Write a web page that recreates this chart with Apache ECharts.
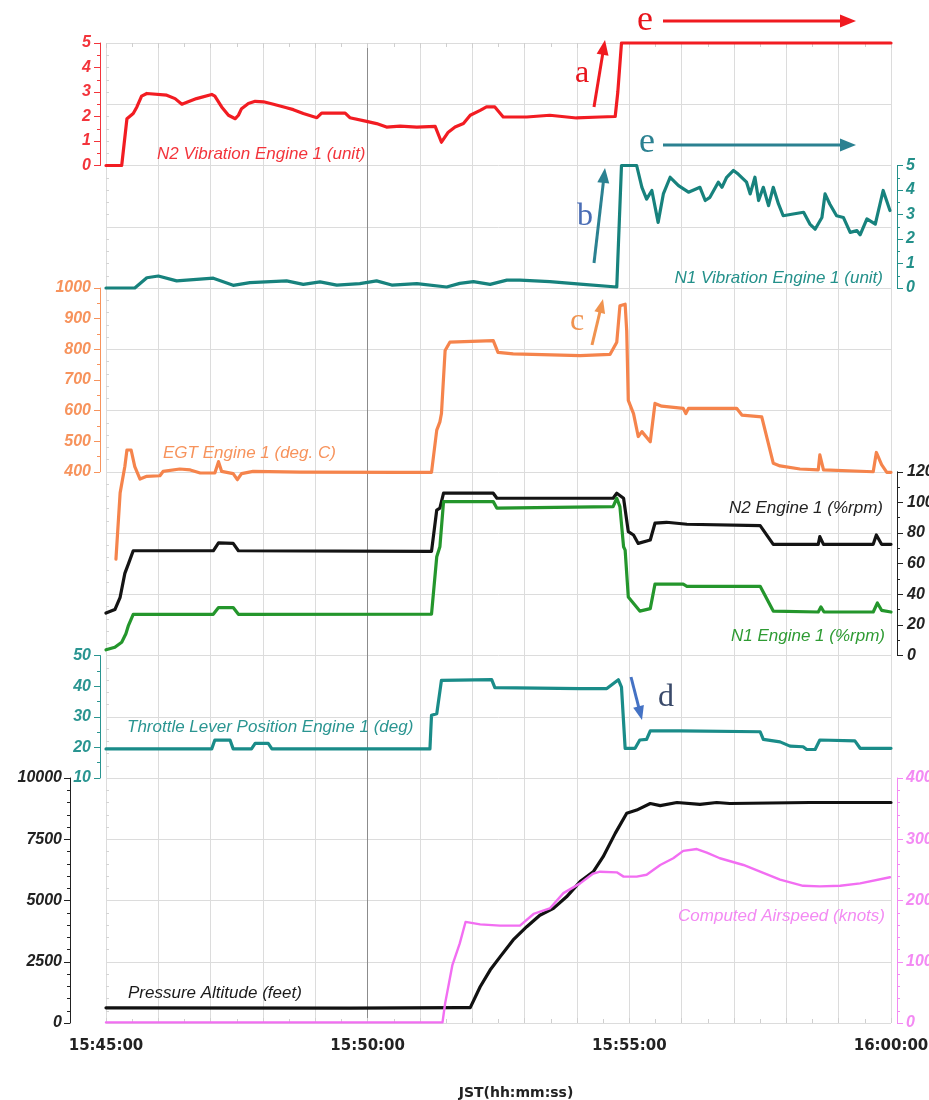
<!DOCTYPE html>
<html>
<head>
<meta charset="utf-8">
<title>Engine 1 parameters</title>
<script src="https://cdn.jsdelivr.net/npm/echarts@6/dist/echarts.min.js"></script>
<style>
  html, body { margin: 0; padding: 0; background: #ffffff; }
  #chart { width: 929px; height: 1100px; }
</style>
</head>
<body>
<div id="chart"></div>
<script>
// x values are minutes after 15:45:00 JST
const timeLabels = ['15:45:00', '15:50:00', '15:55:00', '16:00:00'];

// N2 vibration, engine 1 (unit)
const n2Vibration = [
  [0, 0], [0.30, 0], [0.40, 1.91], [0.52, 2.12], [0.59, 2.39], [0.68, 2.83], [0.78, 2.94],
  [1.16, 2.87], [1.32, 2.73], [1.45, 2.5], [1.57, 2.6], [1.73, 2.73], [2.02, 2.9], [2.08, 2.83],
  [2.21, 2.39], [2.34, 2.05], [2.47, 1.91], [2.53, 2.05], [2.59, 2.32], [2.72, 2.53], [2.85, 2.62],
  [3.01, 2.6], [3.20, 2.5], [3.45, 2.36], [3.58, 2.28], [3.77, 2.12], [4.03, 1.95], [4.12, 2.14],
  [4.57, 2.14], [4.66, 1.95], [4.98, 1.8], [5.17, 1.71], [5.36, 1.57], [5.62, 1.61], [5.94, 1.57],
  [6.29, 1.6], [6.41, 0.95], [6.54, 1.36], [6.67, 1.57], [6.83, 1.71], [6.96, 2.05], [7.15, 2.25],
  [7.27, 2.39], [7.43, 2.39], [7.59, 1.98], [7.78, 1.98], [8.04, 1.98], [8.48, 2.05], [8.99, 1.94],
  [9.44, 1.98], [9.73, 2.0], [9.78, 3.0], [9.85, 5.0], [15, 5.0]
];

// N1 vibration, engine 1 (unit)
const n1Vibration = [
  [0, 0], [0.55, 0], [0.78, 0.42], [1.0, 0.49], [1.35, 0.29], [2.05, 0.4], [2.43, 0.11], [2.75, 0.22],
  [3.45, 0.29], [3.77, 0.15], [4.09, 0.25], [4.41, 0.12], [4.85, 0.18], [5.17, 0.29], [5.46, 0.12],
  [5.94, 0.18], [6.51, 0.04], [6.76, 0.19], [7.02, 0.26], [7.34, 0.15], [7.66, 0.32], [7.91, 0.32],
  [8.48, 0.26], [9.12, 0.15], [9.76, 0.04], [9.85, 5.0], [10.14, 5.0], [10.24, 4.11], [10.33, 3.63],
  [10.43, 3.98], [10.55, 2.68], [10.65, 3.84], [10.78, 4.52], [10.94, 4.18], [11.13, 3.91],
  [11.35, 4.11], [11.45, 3.57], [11.54, 3.7], [11.70, 4.32], [11.77, 4.11], [11.86, 4.52],
  [11.99, 4.8], [12.08, 4.65], [12.24, 4.32], [12.31, 3.84], [12.40, 4.52], [12.47, 3.57],
  [12.56, 4.11], [12.66, 3.36], [12.75, 4.11], [12.85, 3.43], [12.94, 2.95], [13.13, 3.02],
  [13.33, 3.09], [13.45, 2.61], [13.55, 2.4], [13.68, 2.88], [13.74, 3.84], [13.83, 3.43],
  [13.96, 2.95], [14.09, 2.88], [14.22, 2.27], [14.35, 2.34], [14.41, 2.17], [14.54, 2.82],
  [14.70, 2.61], [14.85, 3.98], [14.98, 3.16]
];

// Exhaust gas temperature, engine 1 (deg. C)
const egt = [
  [0.19, 115], [0.27, 331], [0.36, 417], [0.40, 471], [0.48, 471], [0.55, 417], [0.65, 376],
  [0.78, 385], [1.03, 387], [1.09, 401], [1.41, 409], [1.61, 406], [1.80, 396], [2.08, 396],
  [2.15, 433], [2.21, 401], [2.43, 394], [2.51, 374], [2.59, 394], [2.81, 401], [3.71, 399],
  [5.62, 398], [6.22, 398], [6.32, 536], [6.38, 563], [6.41, 590], [6.48, 796], [6.57, 823],
  [7.40, 828], [7.49, 790], [7.78, 785], [9.06, 779], [9.63, 783], [9.76, 823], [9.82, 942],
  [9.92, 947], [9.95, 860], [9.98, 633], [10.08, 590], [10.17, 515], [10.24, 531], [10.40, 498],
  [10.49, 623], [10.62, 614], [11.03, 607], [11.08, 590], [11.13, 607], [12.05, 607], [12.15, 585],
  [12.53, 579], [12.75, 428], [12.88, 419], [13.26, 409], [13.61, 406], [13.64, 455], [13.71, 406],
  [14.66, 400], [14.72, 463], [14.82, 423], [14.92, 398], [15, 398]
];

// N2, engine 1 (%rpm)
const n2Rpm = [
  [0, 27.7], [0.17, 30], [0.27, 38], [0.36, 53.6], [0.43, 60], [0.52, 68.4], [2.05, 68.4],
  [2.15, 73.6], [2.43, 73.2], [2.53, 68.4], [6.22, 68], [6.32, 95], [6.38, 96.2], [6.45, 106],
  [7.40, 106], [7.47, 102.7], [9.69, 102.7], [9.76, 106], [9.89, 102.7], [9.98, 80.9],
  [10.08, 78.7], [10.17, 73.2], [10.40, 75.4], [10.49, 86.4], [10.71, 87], [11.10, 85.7],
  [12.50, 84.8], [12.75, 72.6], [13.61, 72.6], [13.64, 77.6], [13.71, 72.6], [14.66, 72.6],
  [14.72, 78.7], [14.82, 72.6], [15, 72.6]
];

// N1, engine 1 (%rpm)
const n1Rpm = [
  [0, 3.7], [0.17, 5.4], [0.30, 8.7], [0.38, 14.2], [0.43, 19.7], [0.52, 26.9], [2.05, 26.9],
  [2.15, 31.3], [2.43, 31.3], [2.53, 26.9], [6.22, 27], [6.32, 64.5], [6.38, 71], [6.45, 100.5],
  [7.40, 100.5], [7.47, 96.2], [9.69, 97.2], [9.76, 102.7], [9.82, 97.2], [9.89, 71], [9.92, 68.8],
  [9.98, 38.2], [10.20, 29], [10.40, 30.6], [10.49, 46.6], [11.03, 46.6], [11.10, 45.2],
  [12.50, 45.2], [12.75, 29], [13.61, 28.4], [13.66, 31.7], [13.72, 28.4], [14.66, 28.4],
  [14.74, 34.3], [14.82, 29.5], [15, 28.4]
];

// Throttle lever position, engine 1 (deg)
const throttle = [
  [0, 19.5], [2.02, 19.5], [2.08, 22.4], [2.37, 22.4], [2.43, 19.5], [2.78, 19.5], [2.85, 21.3],
  [3.10, 21.3], [3.17, 19.5], [6.19, 19.5], [6.22, 30.5], [6.32, 31], [6.41, 41.9], [7.37, 42.1],
  [7.43, 39.5], [9.06, 39.2], [9.57, 39.2], [9.69, 40.8], [9.79, 42.1], [9.85, 39.7], [9.92, 19.7],
  [10.11, 19.7], [10.20, 22.4], [10.33, 22.6], [10.40, 25.4], [10.97, 25.4], [12.50, 25.1],
  [12.56, 22.6], [12.88, 21.8], [13.07, 20.4], [13.32, 20.2], [13.39, 19.3], [13.55, 19.3],
  [13.64, 22.4], [14.31, 22.1], [14.41, 19.7], [15, 19.7]
];

// Pressure altitude (feet)
const altitude = [
  [0, 620], [4.66, 610], [6.76, 630], [6.96, 630], [7.15, 1480], [7.34, 2160], [7.53, 2700],
  [7.78, 3390], [8.04, 3930], [8.29, 4400], [8.55, 4680], [8.80, 5150], [9.06, 5770], [9.31, 6170],
  [9.50, 6790], [9.73, 7740], [9.95, 8560], [10.14, 8690], [10.40, 8960], [10.59, 8870],
  [10.91, 9000], [11.35, 8920], [11.67, 9000], [11.92, 8960], [13.45, 9000], [15, 9000]
];

// Computed airspeed (knots)
const airspeed = [
  [0, 1], [6.43, 1], [6.48, 32], [6.62, 95], [6.76, 130], [6.87, 165], [7.15, 161], [7.53, 159],
  [7.91, 159], [8.17, 178], [8.48, 187], [8.74, 212], [9.06, 228], [9.31, 244], [9.44, 247],
  [9.76, 246], [9.89, 239], [10.14, 239], [10.33, 242], [10.59, 258], [10.84, 269], [11.03, 281],
  [11.29, 284], [11.48, 278], [11.73, 269], [12.18, 258], [12.50, 247], [12.88, 234], [13.32, 224],
  [13.64, 223], [14.03, 224], [14.41, 228], [14.98, 238]
];

const C = {
  red: '#f21c22', redText: '#f3343b',
  vib1: '#17827d', vib1Text: '#23908a',
  egt: '#f5844c', egtText: '#f7935c',
  n2: '#141414', n1: '#24962c', n1Text: '#2e9b33',
  tla: '#1a8c89', tlaText: '#2a9591',
  alt: '#111111', cas: '#f26ef2', casText: '#f38af3',
  grid: '#dcdcdc', gridDark: '#8c8c8c'
};

const PLOT_LEFT = 106, PLOT_WIDTH = 785;
const ROW = 61.25; // height of one background grid band

// plot rectangles: [top, height]
const panels = [
  [43, 2 * ROW],            // N2 vibration
  [43 + 2 * ROW, 2 * ROW],  // N1 vibration
  [43 + 4 * ROW, 3 * ROW],  // EGT
  [43 + 7 * ROW, 3 * ROW],  // N1 / N2
  [43 + 10 * ROW, 2 * ROW], // throttle
  [43 + 12 * ROW, 4 * ROW]  // altitude / airspeed
];

const grids = [{ left: PLOT_LEFT, top: 43, width: PLOT_WIDTH, height: 16 * ROW, containLabel: false, outerBoundsMode: 'none' }];
panels.forEach(p => grids.push({ left: PLOT_LEFT, top: p[0], width: PLOT_WIDTH, height: p[1], containLabel: false, outerBoundsMode: 'none' }));

const splitColors = [];
for (let i = 0; i <= 15; i++) splitColors.push(i === 5 ? C.gridDark : C.grid);

const xAxes = [
  {
    type: 'value', gridIndex: 0, min: 0, max: 15, interval: 1, position: 'bottom',
    axisLine: { show: false, onZero: false },
    axisTick: { show: true, inside: true, length: 5, lineStyle: { color: '#cfcfcf' } },
    minorTick: { show: true, splitNumber: 2, length: 4, lineStyle: { color: '#cfcfcf' } },
    splitLine: { show: true, lineStyle: { color: splitColors, width: 1 } },
    axisLabel: {
      show: true, margin: 16, showMinLabel: true, showMaxLabel: true,
      formatter: v => (v % 5 === 0 ? timeLabels[v / 5] : ''),
      fontFamily: 'DejaVu Sans', fontWeight: 'bold', fontSize: 15, color: '#222'
    }
  },
  {
    type: 'value', gridIndex: 0, min: 0, max: 15, interval: 1, position: 'top',
    axisLine: { show: false, onZero: false }, axisLabel: { show: false }, splitLine: { show: false },
    axisTick: { show: true, inside: true, length: 5, lineStyle: { color: '#cfcfcf' } },
    minorTick: { show: true, splitNumber: 2, length: 4, lineStyle: { color: '#cfcfcf' } }
  }
];
for (let g = 1; g <= panels.length; g++) {
  xAxes.push({ type: 'value', gridIndex: g, min: 0, max: 15, show: false, axisLine: { onZero: false } });
}

function sideAxis(gridIndex, position, offset, min, max, interval, color, minorSplit, margin) {
  return {
    type: 'value', gridIndex, position, offset, min, max, interval,
    axisLine: { show: true, onZero: false, lineStyle: { color, width: 1 } },
    axisTick: { show: true, length: 6, lineStyle: { color } },
    minorTick: { show: true, splitNumber: minorSplit, length: 3, lineStyle: { color } },
    splitLine: { show: false },
    axisLabel: {
      color, margin, showMinLabel: true, showMaxLabel: true,
      formatter: v => String(v),
      fontFamily: 'Liberation Sans', fontStyle: 'italic', fontWeight: 'bold', fontSize: 16
    }
  };
}

const yAxes = [
  {
    type: 'value', gridIndex: 0, min: 0, max: 16, interval: 1,
    axisLine: { show: false, onZero: false }, axisLabel: { show: false },
    axisTick: { show: false, inside: true },
    minorTick: { show: true, splitNumber: 5, length: 3, lineStyle: { color: '#d4d4d4' } },
    splitLine: { show: true, lineStyle: { color: C.grid, width: 1 } }
  },
  sideAxis(1, 'left', 6, 0, 5, 1, C.redText, 2, 9),
  sideAxis(2, 'right', 6, 0, 5, 1, C.vib1Text, 2, 9),
  sideAxis(3, 'left', 6, 400, 1000, 100, C.egtText, 2, 9),
  sideAxis(4, 'right', 6, 0, 120, 20, '#222222', 2, 10),
  sideAxis(5, 'left', 6, 10, 50, 10, C.tlaText, 2, 9),
  sideAxis(6, 'left', 36, 0, 10000, 2500, '#222222', 5, 8),
  sideAxis(6, 'right', 6, 0, 400, 100, C.casText, 5, 9)
];

function line(name, data, xi, yi, color, width) {
  return {
    name, type: 'line', data, xAxisIndex: xi, yAxisIndex: yi,
    showSymbol: false, symbol: 'none', clip: false,
    lineStyle: { color, width, join: 'round', cap: 'round' },
    itemStyle: { color }, z: 3
  };
}

const series = [
  line('N2 Vibration Engine 1 (unit)', n2Vibration, 2, 1, C.red, 3.2),
  line('N1 Vibration Engine 1 (unit)', n1Vibration, 3, 2, C.vib1, 3.2),
  line('EGT Engine 1 (deg. C)', egt, 4, 3, C.egt, 3.2),
  line('N2 Engine 1 (%rpm)', n2Rpm, 5, 4, C.n2, 3.2),
  line('N1 Engine 1 (%rpm)', n1Rpm, 5, 4, C.n1, 3.2),
  line('Throttle Lever Position Engine 1 (deg)', throttle, 6, 5, C.tla, 3.2),
  line('Pressure Altitude (feet)', altitude, 7, 6, C.alt, 3.2),
  line('Computed Airspeed (knots)', airspeed, 7, 7, C.cas, 2.4)
];

// trace titles
const TITLE_FONT = 'italic 17px "Liberation Sans"';
function label(text, x, y, color, align) {
  return {
    type: 'text', z: 10, silent: true,
    style: { text, x, y, fill: color, font: TITLE_FONT, align: align || 'left', verticalAlign: 'middle' }
  };
}

// annotation arrows
function arrow(x1, y1, x2, y2, color, width, headLen, headHalf) {
  const dx = x2 - x1, dy = y2 - y1, len = Math.hypot(dx, dy);
  const ux = dx / len, uy = dy / len;
  const bx = x2 - ux * headLen, by = y2 - uy * headLen;
  const px = -uy * headHalf, py = ux * headHalf;
  return [
    { type: 'line', z: 10, silent: true, shape: { x1, y1, x2: bx + ux, y2: by + uy }, style: { stroke: color, lineWidth: width } },
    { type: 'polygon', z: 10, silent: true, shape: { points: [[x2, y2], [bx + px, by + py], [bx - px, by - py]] }, style: { fill: color } }
  ];
}
function letter(text, x, y, color, size) {
  return {
    type: 'text', z: 10, silent: true,
    style: { text, x, y, fill: color, font: (size || 32) + 'px "Liberation Serif"', align: 'center', verticalAlign: 'middle' }
  };
}

const graphic = [
  label('N2 Vibration Engine 1 (unit)', 157, 154, C.redText),
  label('N1 Vibration Engine 1 (unit)', 883, 278, C.vib1Text, 'right'),
  label('EGT Engine 1 (deg. C)', 163, 453, C.egtText),
  label('N2 Engine 1 (%rpm)', 883, 508, '#222222', 'right'),
  label('N1 Engine 1 (%rpm)', 885, 636, C.n1Text, 'right'),
  label('Throttle Lever Position Engine 1 (deg)', 127, 727, C.tlaText),
  label('Pressure Altitude (feet)', 128, 993, '#1a1a1a'),
  label('Computed Airspeed (knots)', 885, 916, C.casText, 'right'),
  {
    type: 'text', z: 10, silent: true,
    style: { text: 'JST(hh:mm:ss)', x: 516, y: 1093, fill: '#222', font: 'bold 14px "DejaVu Sans"', align: 'center', verticalAlign: 'middle' }
  },
  letter('a', 582, 74, '#e8141b'),
  ...arrow(594, 107, 605, 40, '#f01a20', 3, 15, 6),
  letter('b', 585, 217, '#4a6db5'),
  ...arrow(594, 263, 605, 168, '#2b8191', 3, 15, 6),
  letter('c', 577, 322, '#f0934f'),
  ...arrow(592, 345, 603, 299, '#f0934f', 3, 14, 5.5),
  letter('d', 666, 698, '#3a4a6a'),
  ...arrow(631, 677, 642, 720, '#4472c4', 3, 14, 5.5),
  letter('e', 645, 21, '#e8141b', 36),
  ...arrow(663, 21, 856, 21, '#f01a20', 3, 16, 6.5),
  letter('e', 647, 143, '#2b8191', 36),
  ...arrow(663, 145, 856, 145, '#2b8191', 3, 16, 6.5)
];

const chart = echarts.init(document.getElementById('chart'), null, { renderer: 'canvas' });
chart.setOption({
  animation: false,
  backgroundColor: '#ffffff',
  grid: grids,
  xAxis: xAxes,
  yAxis: yAxes,
  series,
  graphic
});
</script>
</body>
</html>
